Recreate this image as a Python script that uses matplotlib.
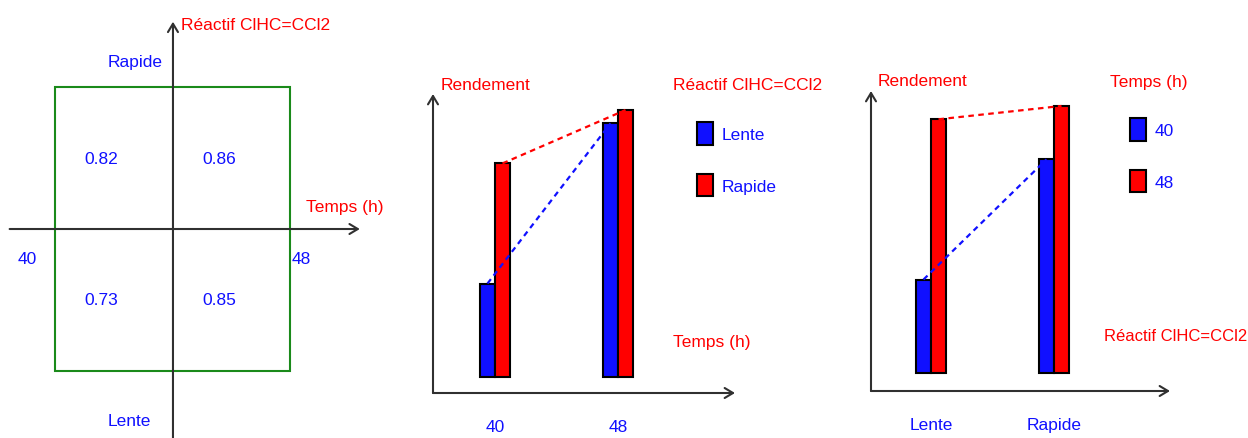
import numpy as np
import matplotlib
matplotlib.use("Agg")
import matplotlib.pyplot as plt
from matplotlib.patches import Rectangle

# Rendement du plan 2x2 : lignes = temps, colonnes = vitesse d'ajout du réactif
TEMPS = [40, 48]
REACTIF = ["Lente", "Rapide"]
RENDEMENT = [[0.73, 0.82],
             [0.85, 0.86]]
BASE = 0.66          # pied des barres sur l'axe des rendements

_BLUE = "#1010ff"
_RED = "#ff0000"
_GREEN = "#1a8a1a"
_AXIS = "#303030"

plt.rcParams["font.family"] = ["Liberation Sans", "DejaVu Sans"]
plt.rcParams["font.size"] = 12.5

W, H = 1248, 439
fig = plt.figure(figsize=(W / 100, H / 100), dpi=100)
fig.patch.set_facecolor("white")


def fx(x):
    return x / W


def fy(y):
    return 1 - y / H


def box(l, t, r, b):
    return [l / W, 1 - b / H, (r - l) / W, (b - t) / H]


def arrow(ax, xy, xytext, coords="axes fraction"):
    ax.annotate("", xy=xy, xytext=xytext, xycoords=coords, textcoords=coords,
                annotation_clip=False,
                arrowprops=dict(arrowstyle="->,head_length=0.5,head_width=0.3",
                                lw=1.5, color=_AXIS, mutation_scale=12,
                                shrinkA=0, shrinkB=0))


def txt(x, y, s, color, ha="left", va="center", **kw):
    fig.text(fx(x), fy(y), s, color=color, ha=ha, va=va, **kw)


# --- plan factoriel ---------------------------------------------------------
rend = np.array(RENDEMENT)
ax0 = fig.add_axes([0, 0, 400 / W, 1])
ax0.set_xlim(-1.472, 1.932)
ax0.set_ylim(-1.472, 1.620)
ax0.axis("off")
ax0.add_patch(Rectangle((-1, -1), 2, 2, fill=False, edgecolor=_GREEN, lw=1.5))
arrow(ax0, (1.59, 0), (-1.39, 0), coords="data")
arrow(ax0, (0, 1.46), (0, -1.472), coords="data")
for i in range(len(TEMPS)):
    for j in range(len(REACTIF)):
        ax0.text(-1 + i + 0.25, -0.5 + j, f"{rend[i, j]:.2f}", color=_BLUE,
                 ha="left", va="center")
ax0.text(-1.24, -0.21, str(TEMPS[0]), color=_BLUE, ha="center", va="center")
ax0.text(1.01, -0.21, str(TEMPS[1]), color=_BLUE, ha="left", va="center")
ax0.text(-0.56, 1.18, REACTIF[1], color=_BLUE, ha="left", va="center")
ax0.text(-0.56, -1.35, REACTIF[0], color=_BLUE, ha="left", va="center")
ax0.text(0.07, 1.44, "Réactif ClHC=CCl2", color=_RED, ha="left", va="center")
ax0.text(1.13, 0.16, "Temps (h)", color=_RED, ha="left", va="center")


# --- histogrammes -------------------------------------------------------------
def bar_panel(rect, ylim, xlim, values, groups, series, pos):
    ax = fig.add_axes(rect)
    ax.set_xlim(*xlim)
    ax.set_ylim(*ylim)
    for s in ax.spines.values():
        s.set_visible(False)
    ax.set_yticks([])
    x = np.arange(len(groups))
    w = 0.122
    handles = []
    for k, (name, color) in enumerate(zip(series, [_BLUE, _RED])):
        xs = x + (k - 0.5) * w
        v = values[:, k]
        b = ax.bar(xs, v - BASE, bottom=BASE, width=w, color=color,
                   edgecolor="black", lw=1.5, label=str(name), zorder=2)
        handles.append(b)
        ax.plot(xs, v, color=color, lw=1.6, linestyle=(0, (2.5, 2)), zorder=3)
    ax.set_xticks(x, [str(g) for g in groups])
    ax.tick_params(axis="x", length=0, pad=19, labelcolor=_BLUE, labelsize=12.5)
    arrow(ax, (1, 0), (0, 0))
    arrow(ax, (0, 1), (0, 0))
    ax.legend(handles=handles, loc="upper left",
              bbox_to_anchor=(fx(pos[0]), fy(pos[1])),
              bbox_transform=fig.transFigure, frameon=False, borderpad=0,
              borderaxespad=0, handlelength=0.9, handleheight=1.65,
              handletextpad=0.5, labelspacing=1.65, labelcolor=_BLUE)
    return ax


bar_panel(box(433, 95, 735, 394), (0.648, 0.872), (-0.504, 1.951),
          rend, TEMPS, REACTIF, (697, 123))
txt(441, 86, "Rendement", _RED)
txt(673, 86, "Réactif ClHC=CCl2", _RED)
txt(673, 343, "Temps (h)", _RED)

bar_panel(box(871, 92, 1170, 392), (0.6465, 0.8712), (-0.488, 1.943),
          rend.T, REACTIF, TEMPS, (1130, 119))
txt(878, 82, "Rendement", _RED)
txt(1110, 82, "Temps (h)", _RED)
txt(1104, 337, "Réactif ClHC=CCl2", _RED, fontsize=12)

fig.savefig("out.png", dpi=100, facecolor="white")
